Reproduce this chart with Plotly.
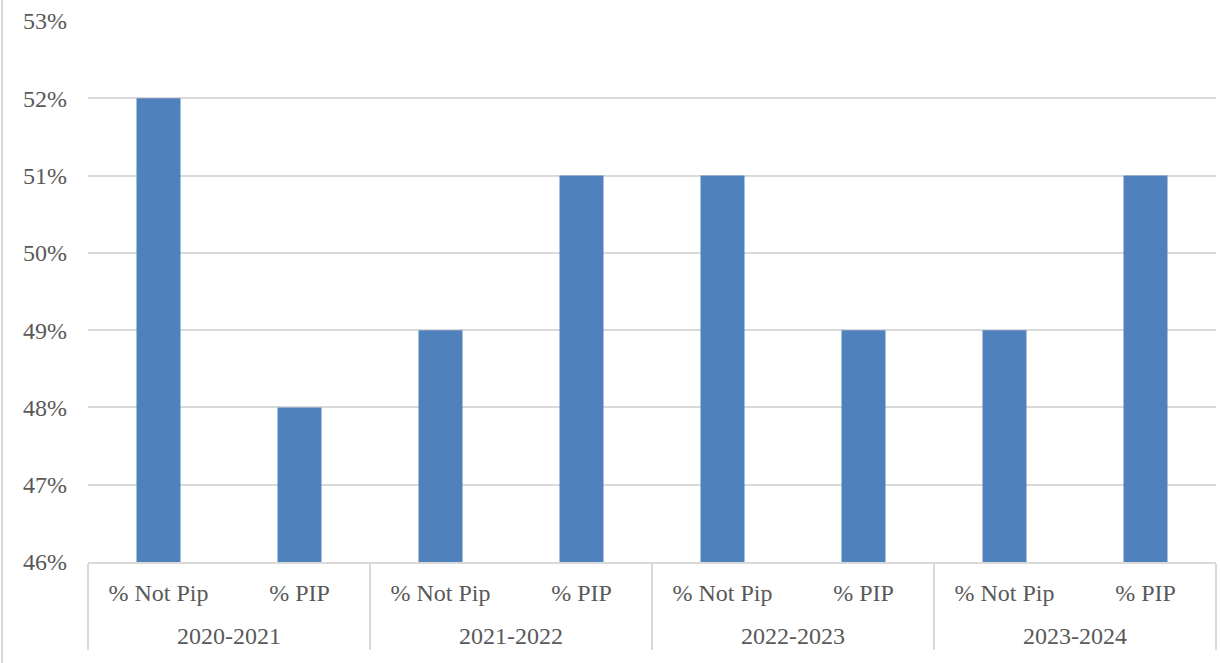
import plotly.graph_objects as go

years = ["2020-2021", "2020-2021", "2021-2022", "2021-2022",
         "2022-2023", "2022-2023", "2023-2024", "2023-2024"]
groups = ["% Not Pip", "% PIP", "% Not Pip", "% PIP",
          "% Not Pip", "% PIP", "% Not Pip", "% PIP"]
values = [0.52, 0.48, 0.49, 0.51, 0.51, 0.49, 0.49, 0.51]

FONT = "Liberation Serif"
TXT = "#595959"
GRID = "#d9d9d9"

big = lambda s: "<span style='font-size:24px'>" + s + "</span>"
year_lbl = ["<br>" + big(y) for y in years]
group_lbl = [big(g) for g in groups]

PW = 1128
fig = go.Figure(go.Bar(
    x=[year_lbl, group_lbl], y=values,
    marker=dict(color="#4F81BD", line=dict(width=0)),
    hoverinfo="y",
))

fig.update_layout(
    width=1220, height=663,
    margin=dict(l=88, r=4, t=21, b=101, autoexpand=False),
    paper_bgcolor="white", plot_bgcolor="white",
    bargap=0.688, showlegend=False,
    font=dict(family=FONT, size=24, color=TXT),
    shapes=[dict(type="line", xref="paper", yref="paper",
                 x0=-86/PW, x1=-86/PW, y0=-101/541, y1=1 + 21/541,
                 line=dict(color=GRID, width=2))],
)
fig.update_yaxes(
    range=[0.46, 0.53], dtick=0.01, tickformat=".0%",
    showgrid=True, gridcolor=GRID, gridwidth=1.5,
    zeroline=False, showline=False, ticks="", automargin=False,
    ticklabelstandoff=20,
    tickfont=dict(family=FONT, size=24, color=TXT),
)
fig.update_xaxes(
    type="multicategory", showline=True, linecolor=GRID, linewidth=1.5,
    showdividers=True, dividercolor=GRID, dividerwidth=1.5,
    ticks="", automargin=False, ticklabelstandoff=12,
    tickfont=dict(family=FONT, size=21, color=TXT),
)

fig.write_html("out.html", config={"displayModeBar": False},
               post_script="document.body.style.margin='0';document.body.style.overflow='hidden';")
